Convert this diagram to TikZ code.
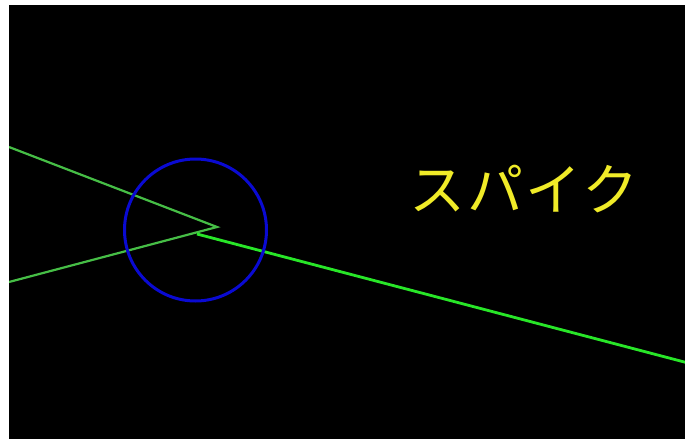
\documentclass[tikz,border=0pt]{standalone}
\usepackage{fontspec}
\newfontfamily\cjk[LetterSpace=4]{Noto Sans CJK JP}
\definecolor{bg}{RGB}{0,0,0}
\definecolor{dimgreen}{RGB}{70,190,70}
\definecolor{brightgreen}{RGB}{40,230,40}
\definecolor{ring}{RGB}{10,10,210}
\definecolor{label}{RGB}{240,235,40}
\begin{document}
\begin{tikzpicture}[x=1pt,y=-1pt,
  thinline/.style={draw=dimgreen,line width=2.2pt},
  thickline/.style={draw=brightgreen,line width=2.8pt},
  ringstyle/.style={draw=ring,line width=3pt},
  txt/.style={text=label,font=\cjk\fontsize{56}{56}\selectfont,inner sep=0pt}]
\useasboundingbox (0,0) rectangle (685,439);
\fill[white] (0,0) rectangle (685,439);
\fill[bg] (9,5) rectangle (685,439);
\begin{scope}
\clip (9,5) rectangle (685,439);
\coordinate (ul) at (9,147);
\coordinate (ll) at (9,282);
\coordinate (tip) at (217,227);
\coordinate (j) at (197,234);
\coordinate (re) at (690,363.5);
\draw[thinline] (ul) -- (tip) -- (ll);
\draw[thickline] (j) -- (re);
\node[ringstyle,circle,minimum size=142pt,inner sep=0pt] (c) at (195.5,230) {};
\end{scope}
\node[txt] (t) at (524,189) {スパイク};
\end{tikzpicture}
\end{document}
